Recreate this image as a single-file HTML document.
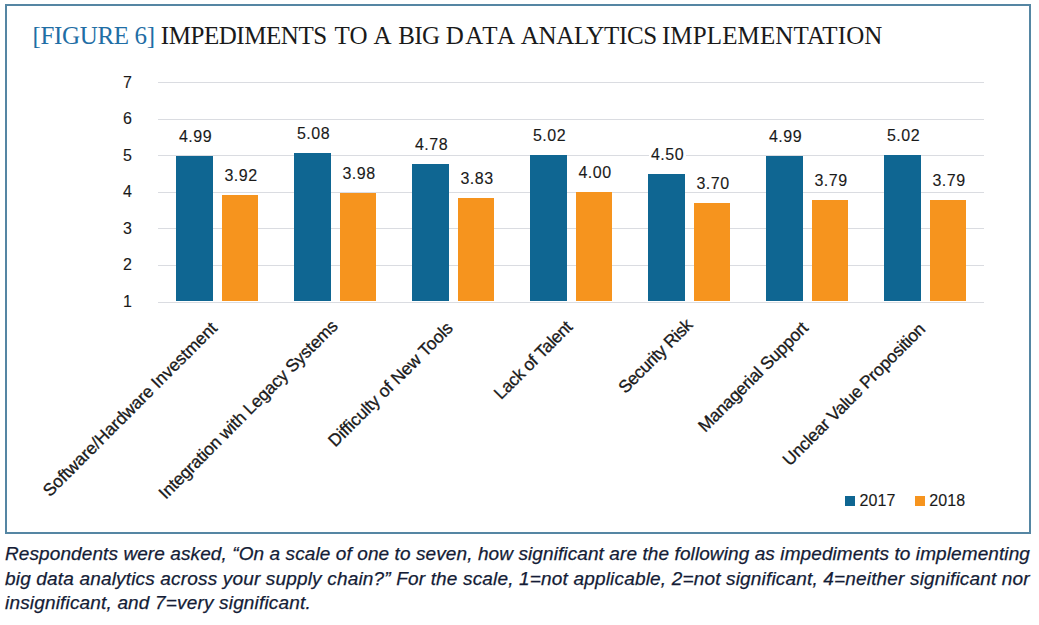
<!DOCTYPE html>
<html><head><meta charset="utf-8"><style>
html,body{margin:0;padding:0;background:#fff;width:1039px;height:625px;overflow:hidden;position:relative}
body{font-family:"Liberation Sans",sans-serif;color:#1a1a1a}
.box{position:absolute;left:5px;top:4px;width:1022px;height:526px;border:2px solid #5586a3}
.title{position:absolute;top:20px;font-family:"Liberation Serif",serif;font-size:25px;white-space:nowrap;color:#1a1a1a;line-height:32px}
.title.f{color:#1f6ea5}
.g{position:absolute;left:158px;width:826px;height:1px;background:#dadce1}
.yl{position:absolute;left:100px;width:32px;text-align:right;font-size:16px;line-height:20px}
.b{position:absolute;width:36.5px}
.dl{position:absolute;width:60px;text-align:center;font-size:16px;line-height:20px;letter-spacing:0.5px;padding-left:0.5px;box-sizing:border-box}
.dl span{background:#fff;padding:0 1.5px;display:inline-block;line-height:14px;height:14px}
.s{-webkit-text-stroke:0.12px currentColor}
.cl{position:absolute;width:0;height:0}
.cl span{position:absolute;right:0;top:-9px;-webkit-text-stroke:0.3px currentColor;white-space:nowrap;font-size:17.4px;line-height:18px;transform-origin:100% 50%;transform:rotate(-45deg)}
.lg{position:absolute;font-size:16px;line-height:20px}
.sq{position:absolute;width:10px;height:10px}
.cap{position:absolute;left:5px;font-style:italic;font-size:19px;line-height:20px;color:#141c36;white-space:nowrap;-webkit-text-stroke:0.25px currentColor}
</style></head><body>
<div class="box"></div>
<div class="title f" style="left:32.50px;letter-spacing:-0.356px">[FIGURE 6]</div><div class="title" style="left:160.80px;letter-spacing:-0.450px">IMPEDIMENTS</div><div class="title" style="left:334.60px;letter-spacing:0.100px">TO</div><div class="title" style="left:373.60px;letter-spacing:0.000px">A</div><div class="title" style="left:398.30px;letter-spacing:-0.700px">BIG</div><div class="title" style="left:445.70px;letter-spacing:1.567px">DATA</div><div class="title" style="left:520.80px;letter-spacing:-0.350px">ANALYTICS</div><div class="title" style="left:661.90px;letter-spacing:0.131px">IMPLEMENTATION</div>
<div class="g" style="top:302px"></div><div class="yl s" style="top:292.00px">1</div><div class="g" style="top:265px"></div><div class="yl s" style="top:255.42px">2</div><div class="g" style="top:228px"></div><div class="yl s" style="top:218.84px">3</div><div class="g" style="top:192px"></div><div class="yl s" style="top:182.26px">4</div><div class="g" style="top:155px"></div><div class="yl s" style="top:145.68px">5</div><div class="g" style="top:119px"></div><div class="yl s" style="top:109.10px">6</div><div class="g" style="top:82px"></div><div class="yl s" style="top:72.52px">7</div><div class="b" style="left:176.00px;top:156.05px;height:144.95px;background:#0f6692"></div><div class="b" style="left:221.50px;top:195.19px;height:105.81px;background:#f6941e"></div><div class="dl s" style="left:165.25px;top:126.85px"><span>4.99</span></div><div class="dl s" style="left:210.75px;top:165.99px"><span>3.92</span></div><div class="cl" style="left:213.48px;top:325.22px"><span style="letter-spacing:-0.03px">Software/Hardware Investment</span></div><div class="b" style="left:294.00px;top:152.75px;height:148.25px;background:#0f6692"></div><div class="b" style="left:339.50px;top:192.99px;height:108.01px;background:#f6941e"></div><div class="dl s" style="left:283.25px;top:123.55px"><span>5.08</span></div><div class="dl s" style="left:328.75px;top:163.79px"><span>3.98</span></div><div class="cl" style="left:334.07px;top:323.23px"><span style="letter-spacing:-0.19px">Integration with Legacy Systems</span></div><div class="b" style="left:412.00px;top:163.73px;height:137.27px;background:#0f6692"></div><div class="b" style="left:457.50px;top:198.48px;height:102.52px;background:#f6941e"></div><div class="dl s" style="left:401.25px;top:134.53px"><span>4.78</span></div><div class="dl s" style="left:446.75px;top:169.28px"><span>3.83</span></div><div class="cl" style="left:450.15px;top:325.35px"><span style="letter-spacing:-0.077px">Difficulty of New Tools</span></div><div class="b" style="left:530.00px;top:154.95px;height:146.05px;background:#0f6692"></div><div class="b" style="left:575.50px;top:192.26px;height:108.74px;background:#f6941e"></div><div class="dl s" style="left:519.25px;top:125.75px"><span>5.02</span></div><div class="dl s" style="left:564.75px;top:163.06px"><span>4.00</span></div><div class="cl" style="left:569.05px;top:323.85px"><span style="letter-spacing:-0.36px">Lack of Talent</span></div><div class="b" style="left:648.00px;top:173.97px;height:127.03px;background:#0f6692"></div><div class="b" style="left:693.50px;top:203.23px;height:97.77px;background:#f6941e"></div><div class="dl s" style="left:637.25px;top:144.77px"><span>4.50</span></div><div class="dl s" style="left:682.75px;top:174.03px"><span>3.70</span></div><div class="cl" style="left:688.71px;top:321.89px"><span style="letter-spacing:-0.41px">Security Risk</span></div><div class="b" style="left:766.00px;top:156.05px;height:144.95px;background:#0f6692"></div><div class="b" style="left:811.50px;top:199.94px;height:101.06px;background:#f6941e"></div><div class="dl s" style="left:755.25px;top:126.85px"><span>4.99</span></div><div class="dl s" style="left:800.75px;top:170.74px"><span>3.79</span></div><div class="cl" style="left:804.41px;top:325.39px"><span style="letter-spacing:-0.275px">Managerial Support</span></div><div class="b" style="left:884.00px;top:154.95px;height:146.05px;background:#0f6692"></div><div class="b" style="left:929.50px;top:199.94px;height:101.06px;background:#f6941e"></div><div class="dl s" style="left:873.25px;top:125.75px"><span>5.02</span></div><div class="dl s" style="left:918.75px;top:170.74px"><span>3.79</span></div><div class="cl" style="left:921.56px;top:325.99px"><span style="letter-spacing:-0.27px">Unclear Value Proposition</span></div>
<div class="sq" style="left:845px;top:496px;background:#0f6692"></div>
<div class="lg s" style="left:859.4px;top:491px;letter-spacing:0.15px">2017</div>
<div class="sq" style="left:915px;top:496px;background:#f6941e"></div>
<div class="lg s" style="left:929.2px;top:491px;letter-spacing:0.15px">2018</div>
<div class="cap" style="top:543.6px;letter-spacing:0.095px">Respondents were asked, “On a scale of one to seven, how significant are the following as impediments to implementing</div>
<div class="cap" style="top:568.5px;letter-spacing:0.17px">big data analytics across your supply chain?” For the scale, 1=not applicable, 2=not significant, 4=neither significant nor</div>
<div class="cap" style="top:593.3px;letter-spacing:0.17px">insignificant, and 7=very significant.</div>
</body></html>
